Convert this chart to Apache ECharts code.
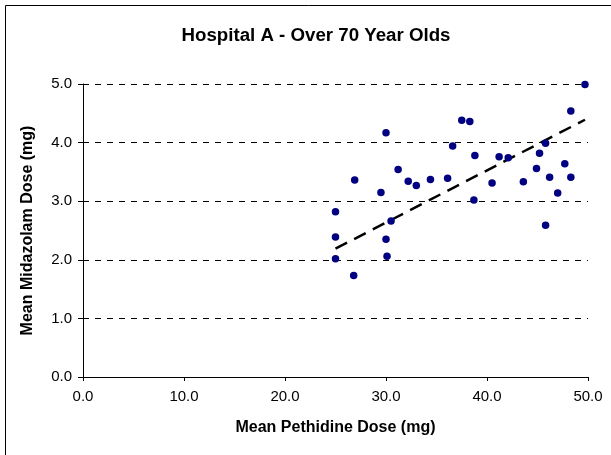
<!DOCTYPE html>
<html>
<head>
<meta charset="utf-8">
<script src="https://cdn.jsdelivr.net/npm/echarts@6/dist/echarts.min.js"></script>
<style>
html,body{margin:0;padding:0;background:#fff;}
#chart{width:611px;height:455px;}
</style>
</head>
<body>
<div id="chart"></div>
<script>
// Mean Pethidine Dose (mg) per point
const pethidine = [25.0, 25.0, 25.0, 26.8, 26.9, 29.5, 30.0, 30.0, 30.1, 30.5, 31.2, 32.2, 33.0, 34.4, 36.1, 36.6, 37.5, 38.3, 38.7, 38.8, 40.5, 41.2, 42.1, 43.6, 44.9, 45.2, 45.8, 45.8, 46.2, 47.0, 47.7, 48.3, 48.3, 49.7];
// Mean Midazolam Dose (mg) per point
const midazolam = [2.82, 2.39, 2.02, 1.73, 3.36, 3.15, 4.17, 2.35, 2.06, 2.66, 3.54, 3.34, 3.27, 3.37, 3.39, 3.94, 4.38, 4.36, 3.02, 3.78, 3.31, 3.76, 3.74, 3.33, 3.56, 3.82, 3.99, 2.59, 3.41, 3.14, 3.64, 4.54, 3.41, 4.99];
// Linear trend line end points
const trendX = [25.0, 49.7];
const trendY = [2.19, 4.39];
// Axis ticks
const xTicks = [0, 10, 20, 30, 40, 50];
const yTicks = [0, 1, 2, 3, 4, 5];

const FONT = "'Liberation Sans', Arial, sans-serif";
const points = pethidine.map((x, i) => [x, midazolam[i]]);
const trend = trendX.map((x, i) => [x, trendY[i]]);

const chart = echarts.init(document.getElementById('chart'), null, {renderer: 'canvas'});
chart.setOption({
  animation: false,
  backgroundColor: '#ffffff',
  title: {
    text: 'Hospital A - Over 70 Year Olds',
    left: 311,
    top: 21,
    textAlign: 'center',
    textStyle: {fontFamily: FONT, fontSize: 18.7, fontWeight: 'bold', color: '#000'}
  },
  graphic: [{
    type: 'rect',
    shape: {x: 5.5, y: 5.5, width: 700, height: 600},
    style: {fill: 'none', stroke: '#000', lineWidth: 1},
    silent: true
  }],
  grid: {left: 83, right: 23, top: 84, bottom: 78},
  xAxis: {
    type: 'value',
    min: xTicks[0],
    max: xTicks[xTicks.length - 1],
    interval: xTicks[1] - xTicks[0],
    name: 'Mean Pethidine Dose (mg)',
    nameLocation: 'middle',
    nameGap: 43,
    nameTextStyle: {fontFamily: FONT, fontSize: 16, fontWeight: 'bold', color: '#000'},
    axisLine: {show: true, onZero: false, lineStyle: {color: '#000', width: 1}},
    axisTick: {show: true, inside: false, length: 4, lineStyle: {color: '#000'}},
    axisLabel: {fontFamily: FONT, fontSize: 15, color: '#000', margin: 12, formatter: v => v.toFixed(1)},
    splitLine: {show: false}
  },
  yAxis: {
    type: 'value',
    min: yTicks[0],
    max: yTicks[yTicks.length - 1],
    interval: yTicks[1] - yTicks[0],
    name: 'Mean Midazolam Dose (mg)',
    nameLocation: 'middle',
    nameGap: 47,
    nameTextStyle: {fontFamily: FONT, fontSize: 16, fontWeight: 'bold', color: '#000'},
    axisLine: {show: true, onZero: false, lineStyle: {color: '#000', width: 1}},
    axisTick: {show: true, inside: false, length: 5, lineStyle: {color: '#000'}},
    axisLabel: {fontFamily: FONT, fontSize: 15, color: '#000', margin: 11, formatter: v => v.toFixed(1)},
    splitLine: {show: true, lineStyle: {color: '#000', width: 1, type: [6, 6]}}
  },
  series: [
    {
      type: 'line',
      data: trend,
      symbol: 'none',
      z: 2,
      lineStyle: {color: '#000', width: 2.5, type: [13, 8]},
      silent: true
    },
    {
      type: 'scatter',
      data: points,
      symbol: 'circle',
      symbolSize: 7.5,
      z: 3,
      itemStyle: {color: '#000080', opacity: 1}
    }
  ]
});
</script>
</body>
</html>
